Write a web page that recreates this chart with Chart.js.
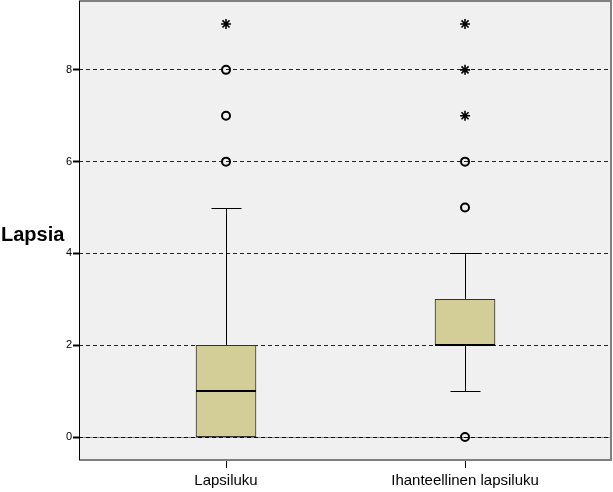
<!DOCTYPE html>
<html>
<head>
<meta charset="utf-8">
<script src="https://cdn.jsdelivr.net/npm/chart.js@4.4.1/dist/chart.umd.min.js"></script>
<style>
  html, body { margin: 0; padding: 0; background: #ffffff; }
  #wrap { width: 613px; height: 492px; }
</style>
</head>
<body>
<div id="wrap"><canvas id="c" width="613" height="492"></canvas></div>
<script>
// ---- data ----
const categories = ['Lapsiluku', 'Ihanteellinen lapsiluku'];
const q1 = [0, 2];
const median = [1, 2];
const q3 = [2, 3];
const whiskerLow = [0, 1];
const whiskerHigh = [5, 4];
const outliers = [[6, 7, 8], [0, 5, 6]];
const extremes = [[9], [7, 8, 9]];
const yTicks = [0, 2, 4, 6, 8];
const yTitle = 'Lapsia';

// ---- style ----
const BOX_FILL = '#D3CE98';
const PLOT_BG = '#F0F0F0';
const BOX_W = 60;
const CAP_W = 30;

const boxData = categories.map((c, i) => ({ x: i + 1, y: [q1[i], q3[i]] }));
const outlierData = [];
const extremeData = [];
outliers.forEach((arr, i) => arr.forEach(v => outlierData.push({ x: i + 1, y: v })));
extremes.forEach((arr, i) => arr.forEach(v => extremeData.push({ x: i + 1, y: v })));

const boxPlugin = {
  id: 'boxplotExtras',
  beforeDraw(chart) {
    const { ctx, chartArea: a } = chart;
    ctx.save();
    ctx.fillStyle = PLOT_BG;
    ctx.fillRect(a.left, a.top, a.right - a.left, a.bottom - a.top);
    ctx.restore();
  },
  beforeDatasetsDraw(chart) {
    const { ctx, chartArea: a, scales: { x, y } } = chart;
    ctx.save();
    // zero reference line
    const y0 = Math.round(y.getPixelForValue(0)) + 0.5;
    ctx.strokeStyle = '#8a8a8a';
    ctx.lineWidth = 1;
    ctx.beginPath(); ctx.moveTo(a.left, y0); ctx.lineTo(a.right, y0); ctx.stroke();
    ctx.strokeStyle = '#000';
    ctx.setLineDash([4, 3]);
    ctx.beginPath(); ctx.moveTo(a.left, y0); ctx.lineTo(a.right, y0); ctx.stroke();
    ctx.setLineDash([]);
    // whiskers
    ctx.strokeStyle = '#000';
    ctx.lineWidth = 1;
    categories.forEach((c, i) => {
      const px = Math.round(x.getPixelForValue(i + 1)) + 0.5;
      const yl = Math.round(y.getPixelForValue(whiskerLow[i])) + 0.5;
      const yh = Math.round(y.getPixelForValue(whiskerHigh[i])) + 0.5;
      const yq1 = y.getPixelForValue(q1[i]);
      const yq3 = y.getPixelForValue(q3[i]);
      ctx.beginPath();
      ctx.moveTo(px, yh); ctx.lineTo(px, yq3);
      ctx.moveTo(px, yq1); ctx.lineTo(px, yl);
      ctx.moveTo(px - CAP_W / 2, yh); ctx.lineTo(px + CAP_W / 2, yh);
      if (whiskerLow[i] !== q1[i]) { ctx.moveTo(px - CAP_W / 2, yl); ctx.lineTo(px + CAP_W / 2, yl); }
      ctx.stroke();
    });
    ctx.restore();
  },
  afterDatasetsDraw(chart) {
    const { ctx, scales: { x, y } } = chart;
    ctx.save();
    ctx.strokeStyle = '#000';
    ctx.lineWidth = 2;
    categories.forEach((c, i) => {
      const px = x.getPixelForValue(i + 1);
      const ym = Math.round(y.getPixelForValue(median[i]));
      ctx.beginPath();
      ctx.moveTo(px - BOX_W / 2, ym); ctx.lineTo(px + BOX_W / 2, ym);
      ctx.stroke();
    });
    ctx.restore();
  },
  afterDraw(chart) {
    const { ctx, chartArea: a } = chart;
    ctx.save();
    // frame
    ctx.lineWidth = 2;
    ctx.strokeStyle = '#808080';
    ctx.beginPath();
    ctx.moveTo(a.left, a.top); ctx.lineTo(a.right, a.top);
    ctx.lineTo(a.right, a.bottom); ctx.lineTo(a.left, a.bottom);
    ctx.stroke();
    ctx.lineWidth = 1;
    ctx.strokeStyle = '#000';
    ctx.beginPath();
    ctx.moveTo(a.left + 0.5, a.top); ctx.lineTo(a.left + 0.5, a.bottom);
    ctx.stroke();
    // horizontal y-axis title
    ctx.fillStyle = '#000';
    ctx.font = 'bold 20px "Liberation Sans", Arial, sans-serif';
    ctx.textAlign = 'left';
    ctx.textBaseline = 'middle';
    ctx.fillText(yTitle, 1, (a.top + a.bottom) / 2 + 5);
    ctx.restore();
  }
};

new Chart(document.getElementById('c'), {
  type: 'bar',
  data: {
    datasets: [
      {
        type: 'bar',
        data: boxData,
        backgroundColor: BOX_FILL,
        borderColor: '#333',
        borderWidth: 1,
        borderSkipped: false,
        barThickness: BOX_W,
        grouped: false,
        order: 2
      },
      {
        type: 'scatter',
        data: outlierData,
        pointStyle: 'circle',
        pointRadius: 4,
        pointBorderWidth: 2,
        pointBackgroundColor: 'rgba(0,0,0,0)',
        pointBorderColor: '#000',
        order: 1
      },
      {
        type: 'scatter',
        data: extremeData,
        pointStyle: 'star',
        pointRadius: 5,
        pointBorderWidth: 1.6,
        pointBorderColor: '#000',
        order: 1
      }
    ]
  },
  options: {
    responsive: false,
    animation: false,
    events: [],
    layout: { autoPadding: false, padding: { top: 1, right: 2, left: 0, bottom: 0 } },
    plugins: { legend: { display: false }, tooltip: { enabled: false } },
    scales: {
      x: {
        type: 'linear',
        offset: false,
        min: 0.3849,
        max: 2.6108,
        afterBuildTicks(s) { s.ticks = categories.map((c, i) => ({ value: i + 1 })); },
        afterFit(s) { s.height = 32; s.paddingLeft = 0; s.paddingRight = 0; },
        ticks: {
          callback: (v) => categories[v - 1],
          color: '#000',
          font: { family: '"Liberation Sans", Arial, sans-serif', size: 15 },
          padding: 4,
          maxRotation: 0,
          autoSkip: false
        },
        grid: { display: true, offset: false, drawOnChartArea: false, drawTicks: true, tickLength: 8, tickColor: '#000', tickWidth: 1 },
        border: { display: false }
      },
      y: {
        type: 'linear',
        min: -0.5,
        max: 9.5,
        afterBuildTicks(s) { s.ticks = yTicks.map(v => ({ value: v })); },
        afterFit(s) { s.width = 79; s.paddingTop = 0; s.paddingBottom = 0; },
        ticks: {
          color: '#000',
          font: { family: '"Liberation Sans", Arial, sans-serif', size: 11 },
          padding: 1
        },
        grid: {
          color: (ctx) => (ctx.tick && ctx.tick.value === 0 ? 'rgba(0,0,0,0)' : '#222'),
          lineWidth: 1,
          drawTicks: true,
          tickLength: 6,
          tickColor: '#000',
          tickWidth: 2
        },
        border: { display: false, dash: [4, 3] }
      }
    }
  },
  plugins: [boxPlugin]
});
</script>
</body>
</html>
